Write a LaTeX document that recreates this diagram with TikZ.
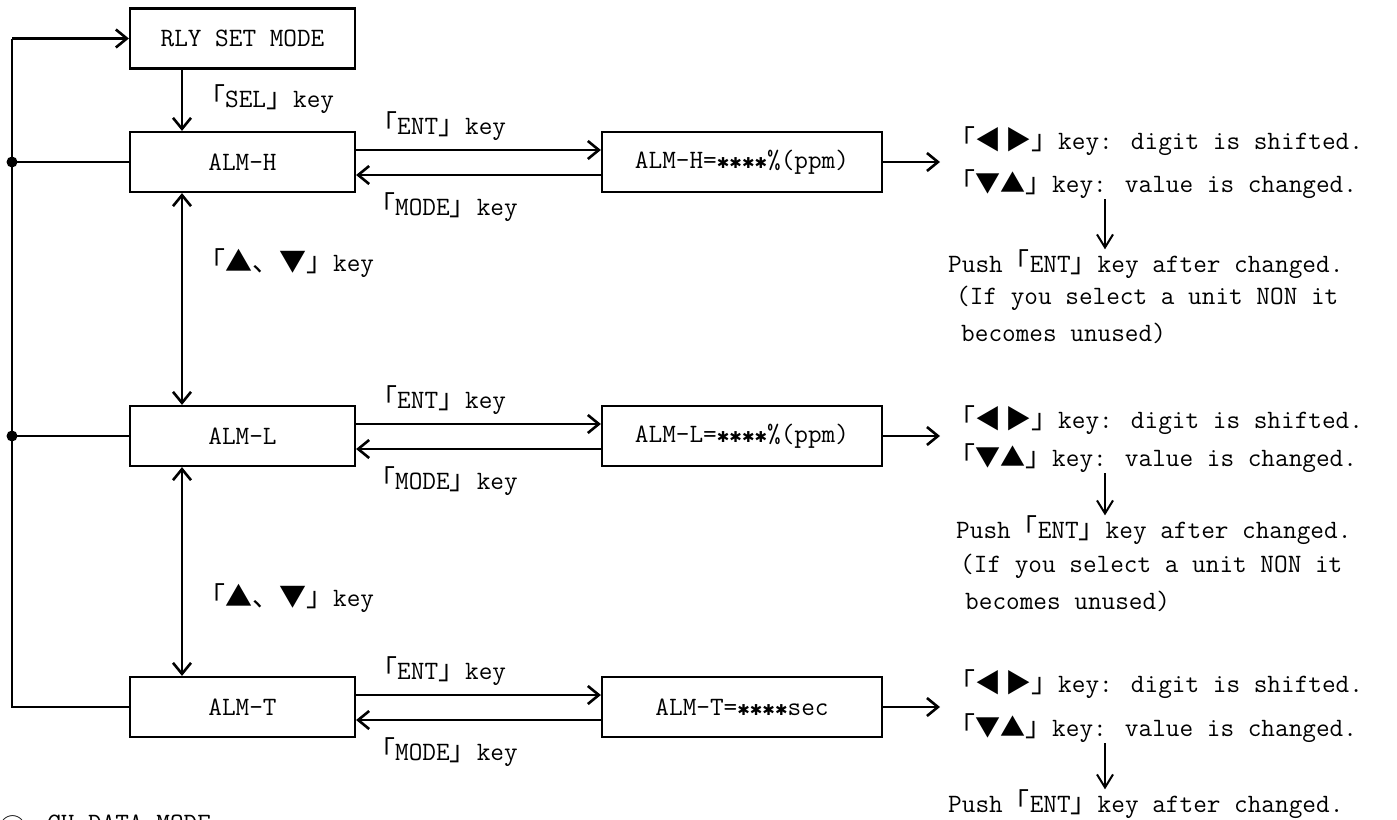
\documentclass[tikz,border=0pt]{standalone}
\usepackage{fontspec}
\newfontfamily\jp{Noto Sans CJK JP}
\newfontfamily\dv{DejaVu Sans}
\usetikzlibrary{arrows.meta}
\newcommand{\jf}{\jp\fontsize{27}{30}\selectfont}
\newcommand{\jlb}{{\jf 「}}
\newcommand{\jrb}{{\jf 」}}
\newcommand{\jj}[1]{{\jf #1}}
\newcommand{\sta}{{\dv\fontsize{15}{18}\selectfont ✱}}
\newcommand{\lr}{{\jp\fontsize{26}{28}\selectfont ◀\hspace{4pt}▶}}
\newcommand{\du}{{\jp\fontsize{25}{28}\selectfont ▼▲}}
\tikzset{
  txt/.style={font=\ttfamily\fontsize{26.5}{30}\selectfont},
  box/.style={draw, line width=2.2pt, minimum width=225pt, minimum height=60pt, inner sep=0pt, txt},
  vbox/.style={draw, line width=2.2pt, minimum width=280pt, minimum height=60pt, inner sep=0pt, txt},
  lbl/.style={inner sep=0pt, anchor=west, txt},
  ln/.style={line width=2.6pt},
  arr/.style={line width=2.6pt, -{Straight Barb[length=11pt,width=18pt]}},
  darr/.style={line width=2.6pt, {Straight Barb[length=11pt,width=18pt]}-{Straight Barb[length=11pt,width=18pt]}},
  sarr/.style={line width=2pt, -{Straight Barb[length=13pt,width=16pt]}},
}
\begin{document}
\begin{tikzpicture}[x=1pt,y=-1pt]
\useasboundingbox (0,0) rectangle (1397,819);
% main boxes
\node[box] (rly) at (242.5,38.5) {RLY SET MODE};
\node[box] (h) at (242.5,162) {ALM-H};
\node[box] (l) at (242.5,436) {ALM-L};
\node[box] (t) at (242.5,707) {ALM-T};
% value boxes
\node[vbox] (hv) at (742,162) {ALM-H=\sta\sta\sta\sta\%(ppm)};
\node[vbox] (lv) at (742,436) {ALM-L=\sta\sta\sta\sta\%(ppm)};
\node[vbox] (tv) at (742,707) {ALM-T=\sta\sta\sta\sta sec};
% left bus
\coordinate (bt) at (12,38.5);
\coordinate (bb) at (12,707);
\coordinate (dh) at (12,162);
\coordinate (dl) at (12,436);
\draw[ln] (t.west) -- (bb) -- (bt);
\draw[arr] (bt) -- (rly.west);
\draw[ln] (dh) -- (h.west);
\draw[ln] (dl) -- (l.west);
\fill (dh) circle (5.5pt);
\fill (dl) circle (5.5pt);
% vertical arrows
\coordinate (sx) at (182,0);
\draw[arr] (rly.south -| sx) -- (h.north -| sx);
\draw[darr] (h.south -| sx) -- (l.north -| sx);
\draw[darr] (l.south -| sx) -- (t.north -| sx);
\node[lbl] (sel) at (198,99) {\jlb SEL\jrb key};
\node[lbl] (ud1) at (198,263) {\jlb\jj{▲、▼}\jrb key};
\node[lbl] (ud2) at (198,598) {\jlb\jj{▲、▼}\jrb key};
% ENT / MODE arrows
\draw[arr] ([yshift=12pt]h.east) -- ([yshift=12pt]hv.west);
\draw[arr] ([yshift=-13pt]hv.west) -- ([yshift=-13pt]h.east);
\draw[arr] ([yshift=12pt]l.east) -- ([yshift=12pt]lv.west);
\draw[arr] ([yshift=-13pt]lv.west) -- ([yshift=-13pt]l.east);
\draw[arr] ([yshift=12pt]t.east) -- ([yshift=12pt]tv.west);
\draw[arr] ([yshift=-13pt]tv.west) -- ([yshift=-13pt]t.east);
\node[lbl] (eh) at (370,126) {\jlb ENT\jrb key};
\node[lbl] (mh) at (368,207) {\jlb MODE\jrb key};
\node[lbl] (el) at (370,400) {\jlb ENT\jrb key};
\node[lbl] (ml) at (368,481) {\jlb MODE\jrb key};
\node[lbl] (et) at (370,671) {\jlb ENT\jrb key};
\node[lbl] (mt) at (368,752) {\jlb MODE\jrb key};
% output arrows
\coordinate (oh) at (940,162);
\coordinate (ol) at (940,436);
\coordinate (ot) at (940,707);
\draw[arr] (hv.east) -- (oh);
\draw[arr] (lv.east) -- (ol);
\draw[arr] (tv.east) -- (ot);
% right block 1
\node[lbl] (h1) at (948,141) {\jlb\lr\jrb key: digit is shifted.};
\node[lbl] (h2) at (948,184) {\jlb\du\jrb key: value is changed.};
\node[lbl] (h3) at (948,264) {Push\jlb ENT\jrb key after changed.};
\node[lbl] (h4) at (956,298) {(If you select a unit NON it};
\node[lbl] (h5) at (961,333) {becomes unused)};
\coordinate (ha) at (1105,199);
\draw[sarr] (ha) -- (ha |- h3.north);
% right block 2
\node[lbl] (l1) at (948,420) {\jlb\lr\jrb key: digit is shifted.};
\node[lbl] (l2) at (948,458) {\jlb\du\jrb key: value is changed.};
\node[lbl] (l3) at (956,530) {Push\jlb ENT\jrb key after changed.};
\node[lbl] (l4) at (960,566) {(If you select a unit NON it};
\node[lbl] (l5) at (965,601) {becomes unused)};
\coordinate (la) at (1105,473);
\draw[sarr] (la) -- (la |- l3.north);
% right block 3
\node[lbl] (t1) at (948,684) {\jlb\lr\jrb key: digit is shifted.};
\node[lbl] (t2) at (948,728) {\jlb\du\jrb key: value is changed.};
\node[lbl] (t3) at (948,804) {Push\jlb ENT\jrb key after changed.};
\coordinate (ta) at (1105,743);
\draw[sarr] (ta) -- (ta |- t3.north);
% cut-off caption at bottom
\node[inner sep=0pt, anchor=north west, font=\jf] (c3) at (-1,815) {③};
\node[lbl, anchor=north west] (cdm) at (47,815) {CH DATA MODE};
\end{tikzpicture}
\end{document}
